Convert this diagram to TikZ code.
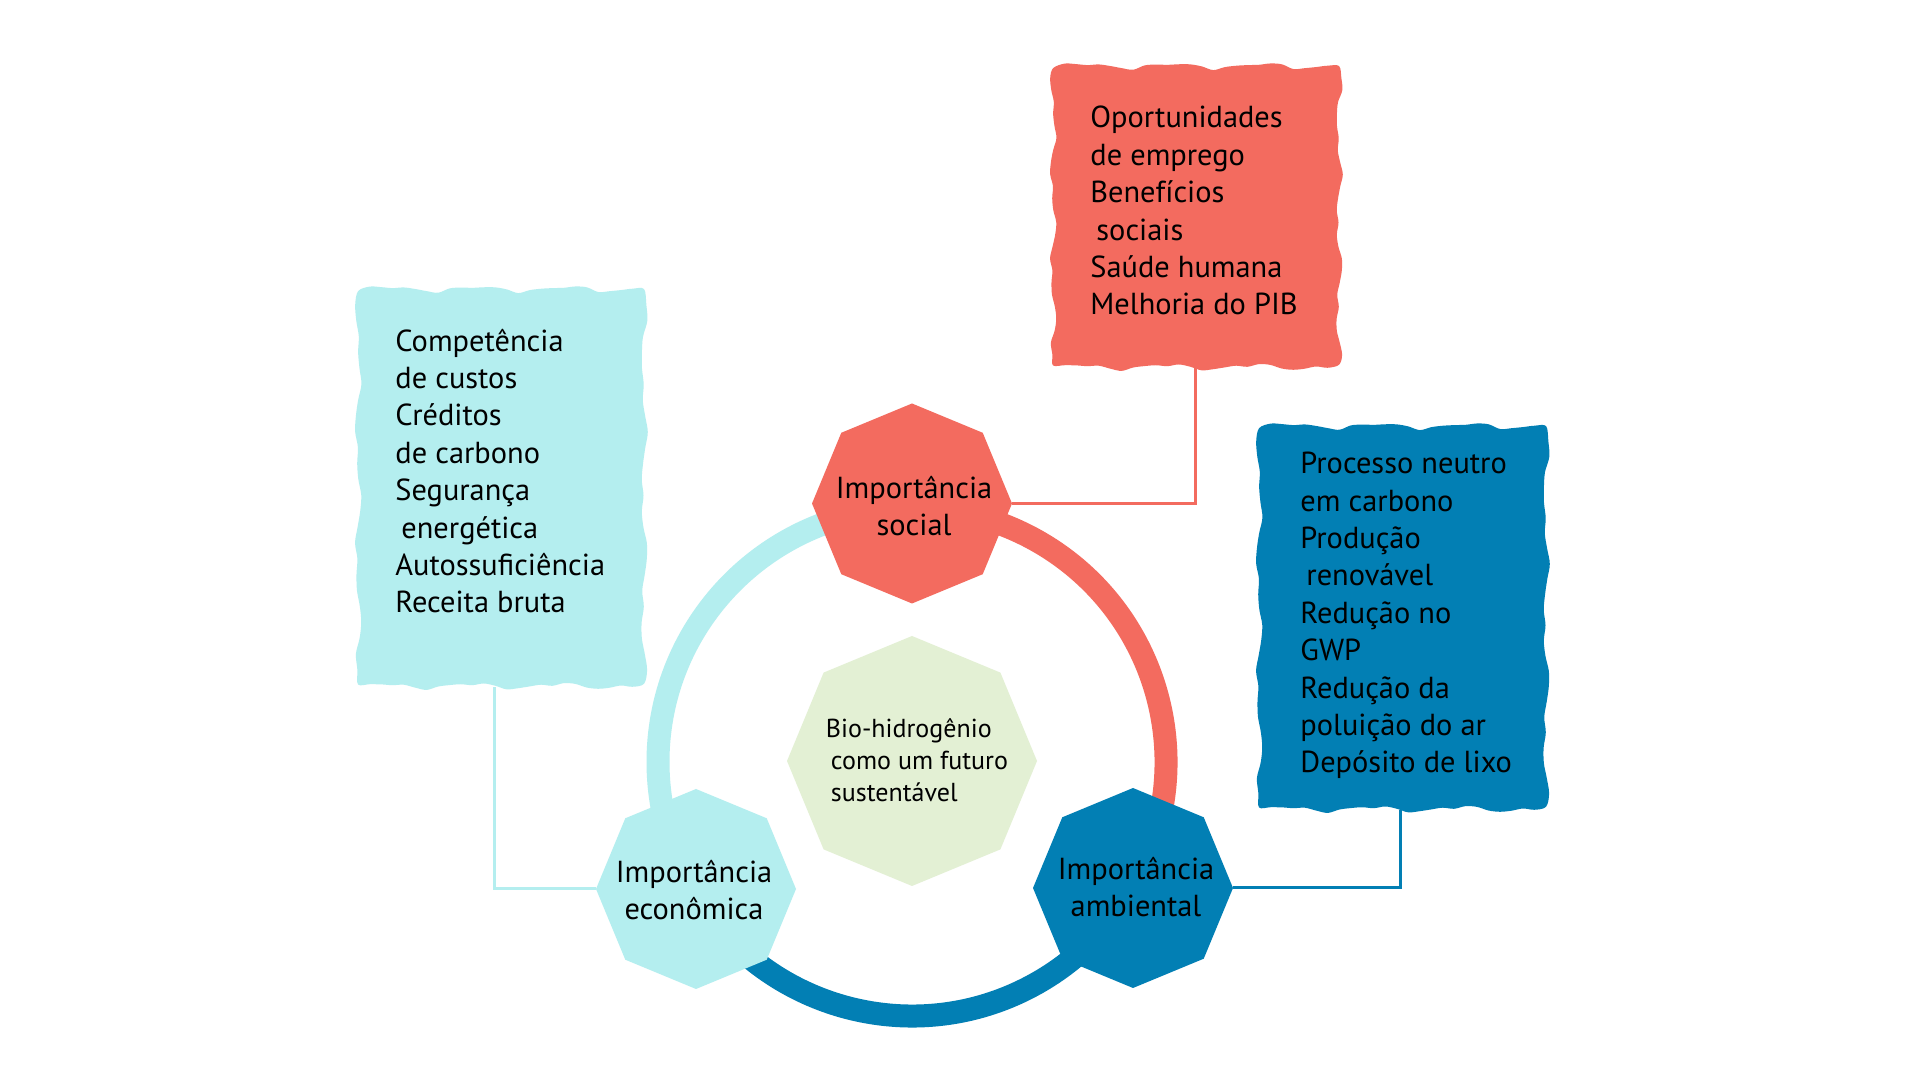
\documentclass[tikz,border=0pt]{standalone}
\usepackage{fontspec}
\setmainfont{PT Sans}
\usetikzlibrary{shapes.geometric}
\definecolor{redc}{HTML}{F36B5F}
\definecolor{cyanc}{HTML}{B4EEEF}
\definecolor{bluec}{HTML}{027FB4}
\definecolor{greenc}{HTML}{E3F0D4}
\tikzset{
  declare function={
    nz(\s)=2.3*sin(1150*\s)+1.3*sin(2450*\s+50)+0.6*cos(3900*\s+20);
    wx(\s,\p,\q)=ifthenelse(\s<1,\p+(\q-\p)*\s,ifthenelse(\s<2,\q+nz(\s),ifthenelse(\s<3,\q-(\q-\p)*(\s-2),\p+nz(\s))));
    wy(\s,\p,\q)=ifthenelse(\s<1,\p+nz(\s),ifthenelse(\s<2,\p+(\q-\p)*(\s-1),ifthenelse(\s<3,\q+nz(\s),\q-(\q-\p)*(\s-3))));
  },
  boxframe/.style={draw=none, rectangle, inner sep=0pt},
  boxtext/.style={inner sep=0pt, anchor=base west, align=left, text=black,
    font=\fontsize{15.2}{18.7}\selectfont},
  octa/.style={regular polygon, regular polygon sides=8, shape border rotate=22.5,
    inner sep=0pt, minimum size=100pt},
  octatext/.style={inner sep=0pt, align=center, text=black,
    font=\fontsize{15.2}{18.3}\selectfont},
  ring/.style={line width=11.5pt},
  link/.style={line width=1.5pt}
}
\newcommand\wavyfill[5]{\fill[#1] plot[smooth cycle, tension=0.55, variable=\t, samples=100, domain=0:3.96] ({wx(\t,#2,#4)},{wy(\t,#3,#5)});}
\begin{document}
\begin{tikzpicture}[x=0.5pt,y=0.5pt]
\useasboundingbox (0,0) rectangle (1920,1080);
\fill[white] (0,0) rectangle (1920,1080);
% ring
\coordinate (rc) at (912,318);
\draw[ring, cyanc] (rc) ++(90:254) arc[start angle=90, end angle=210, radius=254];
\draw[ring, redc] (rc) ++(-30:254) arc[start angle=-30, end angle=90, radius=254];
\draw[ring, bluec] (rc) ++(210:254) arc[start angle=210, end angle=330, radius=254];
% boxes
\wavyfill{redc}{1053}{713}{1339}{1014}
\wavyfill{cyanc}{358}{394}{644}{791}
\wavyfill{bluec}{1259}{271}{1546}{654}
\node[boxframe, minimum width=144pt, minimum height=151.5pt] (sbox) at (1196,863.5) {};
\node[boxframe, minimum width=144pt, minimum height=199.5pt] (ebox) at (501,592.5) {};
\node[boxframe, minimum width=144.5pt, minimum height=192.5pt] (abox) at (1402.5,462.5) {};
\node[boxtext] (stext) at (1090,765) {Oportunidades\\de emprego\\Benefícios\\\hspace*{3pt}sociais\\Saúde humana\\Melhoria do PIB};
\node[boxtext] (etext) at (395,467) {Competência\\de custos\\Créditos\\de carbono\\Segurança\\\hspace*{3pt}energética\\Autossuficiência\\Receita bruta};
\node[boxtext] (atext) at (1300,307) {Processo neutro\\em carbono\\Produção\\\hspace*{3pt}renovável\\Redução no\\GWP\\Redução da\\poluição do ar\\Depósito de lixo};
% octagons
\node[octa, fill=redc] (soc) at (912,576.5) {};
\node[octa, fill=cyanc] (eco) at (696,191) {};
\node[octa, fill=bluec] (env) at (1133,192) {};
\node[octa, fill=greenc, minimum size=125pt] (bio) at (912,319) {};
\node[octatext] (soct) at (914,574) {Importância\\social};
\node[octatext] (ecot) at (694,190) {Importância\\econômica};
\node[octatext] (envt) at (1136,193) {Importância\\ambiental};
\node[octatext, align=left, font=\fontsize{13}{15.9}\selectfont] (biot) at (917,320) {Bio-hidrogênio\\\hspace*{2.5pt}como um futuro\\\hspace*{2.5pt}sustentável};
% connectors
\draw[link, redc] (sbox.south -| 1195,0) |- (soc.east);
\draw[link, cyanc] (ebox.south -| 494,0) |- (eco.west);
\draw[link, bluec] (abox.south -| 1400,0) |- (env.east);
\end{tikzpicture}
\end{document}
